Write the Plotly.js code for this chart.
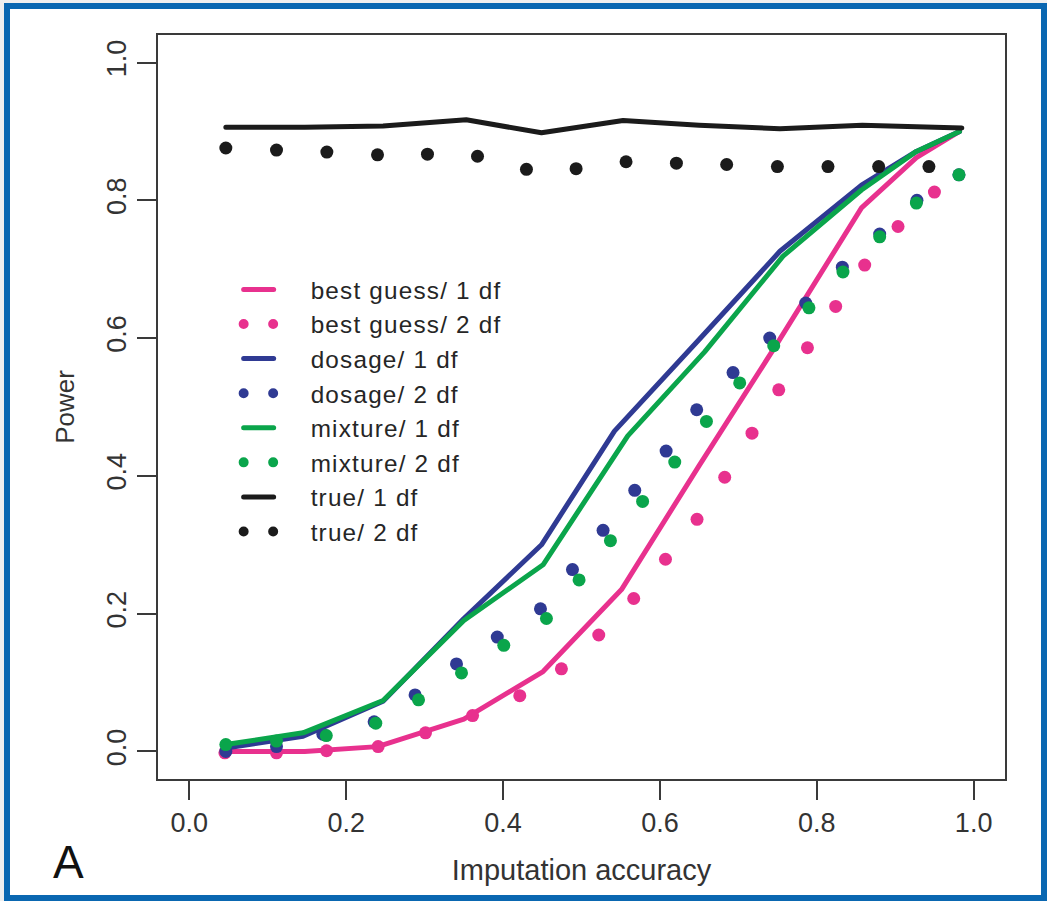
<!DOCTYPE html>
<html>
<head>
<meta charset="utf-8">
<script src="https://cdn.plot.ly/plotly-3.0.1.min.js"></script>
<style>
  html, body { margin: 0; padding: 0; background: #ffffff; }
  #wrap { position: relative; width: 1047px; height: 901px; overflow: hidden; }
  #chart { position: absolute; left: 0; top: 0; width: 1047px; height: 901px; }
  #frameOuter { position: absolute; left: 0; top: 0; width: 1047px; height: 901px; box-sizing: border-box;
    border-top: 3px solid #efefef; border-left: 4px solid #efefef; pointer-events: none; }
  #frameInner { position: absolute; left: 0; top: 0; right: 0; bottom: 0; box-sizing: border-box;
    border: 6px solid #0a67b1; pointer-events: none; }
  .js-line, .legendlines path { stroke-linecap: round !important; stroke-linejoin: round !important; }
  .legendtext { letter-spacing: 1.2px; }
  .legend .scrollbox, .legend .groups, .legend g { clip-path: none !important; }
  .legend .traces .layers { transform: translate(-32px, 0px); }
</style>
</head>
<body>
<div id="wrap">
  <div id="chart"></div>
  <div id="frameOuter"><div id="frameInner"></div></div>
</div>
<script>
// ---- data ----
const seriesNames = ["best guess/ 1 df", "best guess/ 2 df", "dosage/ 1 df", "dosage/ 2 df",
                     "mixture/ 1 df", "mixture/ 2 df", "true/ 1 df", "true/ 2 df"];

// best guess, 1 df (solid)
const bestGuess1X = [0.0465, 0.147, 0.240, 0.350, 0.451, 0.551, 0.650, 0.750, 0.857, 0.927, 0.982];
const bestGuess1Y = [0.000, 0.000, 0.007, 0.047, 0.116, 0.235, 0.415, 0.593, 0.789, 0.862, 0.900];
// best guess, 2 df (dotted)
const bestGuess2X = [0.0453, 0.1111, 0.1749, 0.2407, 0.3011, 0.3611, 0.4213, 0.4744, 0.5220, 0.5666,
                     0.6071, 0.6473, 0.6826, 0.7174, 0.7515, 0.7881, 0.8241, 0.8611, 0.9036, 0.9500];
const bestGuess2Y = [-0.002, -0.002, 0.001, 0.007, 0.027, 0.052, 0.081, 0.120, 0.169, 0.222,
                     0.279, 0.337, 0.398, 0.462, 0.525, 0.586, 0.646, 0.706, 0.762, 0.812];

// dosage, 1 df (solid)
const dosage1X = [0.0465, 0.145, 0.247, 0.350, 0.449, 0.542, 0.650, 0.753, 0.857, 0.927, 0.982];
const dosage1Y = [0.005, 0.022, 0.073, 0.193, 0.300, 0.465, 0.598, 0.726, 0.822, 0.871, 0.900];
// dosage, 2 df (dotted)
const dosage2X = [0.0465, 0.1111, 0.1702, 0.2356, 0.2878, 0.3406, 0.3926, 0.4477, 0.4885, 0.5275,
                  0.5679, 0.6079, 0.6469, 0.6932, 0.7400, 0.7859, 0.8326, 0.8802, 0.9277, 0.9813];
const dosage2Y = [0.000, 0.007, 0.025, 0.043, 0.082, 0.127, 0.166, 0.207, 0.264, 0.321,
                  0.379, 0.436, 0.496, 0.550, 0.600, 0.651, 0.703, 0.751, 0.800, 0.837];

// mixture, 1 df (solid)
const mixture1X = [0.0465, 0.145, 0.247, 0.350, 0.451, 0.559, 0.657, 0.757, 0.857, 0.927, 0.982];
const mixture1Y = [0.010, 0.027, 0.074, 0.190, 0.271, 0.458, 0.580, 0.719, 0.815, 0.871, 0.900];
// mixture, 2 df (dotted)
const mixture2X = [0.0465, 0.1111, 0.1746, 0.2377, 0.2922, 0.3470, 0.4009, 0.4553, 0.4969, 0.5369,
                   0.5779, 0.6189, 0.6593, 0.7017, 0.7451, 0.7900, 0.8334, 0.8802, 0.9270, 0.9813];
const mixture2Y = [0.010, 0.015, 0.023, 0.041, 0.075, 0.114, 0.154, 0.193, 0.249, 0.306,
                   0.363, 0.420, 0.479, 0.535, 0.589, 0.644, 0.696, 0.747, 0.796, 0.837];

// true genotypes, 1 df (solid)
const true1X = [0.0465, 0.147, 0.247, 0.353, 0.449, 0.553, 0.650, 0.753, 0.858, 0.985];
const true1Y = [0.906, 0.906, 0.908, 0.917, 0.898, 0.916, 0.909, 0.904, 0.909, 0.905];
// true genotypes, 2 df (dotted)
const true2X = [0.0465, 0.1111, 0.1753, 0.2399, 0.3036, 0.3674, 0.4298, 0.4931, 0.5568, 0.6210,
                0.6851, 0.7498, 0.8143, 0.8789, 0.9430];
const true2Y = [0.876, 0.873, 0.870, 0.866, 0.867, 0.864, 0.845, 0.846, 0.856, 0.854,
                0.852, 0.849, 0.849, 0.849, 0.849];

const tickVals = [0, 0.2, 0.4, 0.6, 0.8, 1.0];
const tickText = ["0.0", "0.2", "0.4", "0.6", "0.8", "1.0"];

// placeholder point for legend-only key entries (draws nothing)
const keyX = [null];
const keyY = [null];

// ---- styles ----
const PINK = "#e8318e", BLUE = "#2f3a93", GREEN = "#0aa54b", BLACK = "#1b1b1b";
const FONT = "Liberation Sans, Arial, Helvetica, sans-serif";

function solid(x, y, name, color) {
  return { x: x, y: y, name: name, type: "scatter", mode: "lines",
           line: { color: color, width: 5 }, hoverinfo: "skip", showlegend: true };
}
function dots(x, y, name, color) {
  return { x: x, y: y, name: name, type: "scatter", mode: "markers", legendgroup: name,
           marker: { color: color, size: 13, line: { width: 0 } }, hoverinfo: "skip", showlegend: false };
}
function dotsKey(name, color) {
  // legend-only entry: dotted sample (two round dots)
  return { x: keyX, y: keyY, name: name, type: "scatter", mode: "lines", legendgroup: name,
           line: { color: color, width: 13, dash: "0px,29.5px" }, hoverinfo: "skip", showlegend: true };
}

const traces = [
  solid(bestGuess1X, bestGuess1Y, seriesNames[0], PINK),
  dots(bestGuess2X, bestGuess2Y, seriesNames[1], PINK),
  dotsKey(seriesNames[1], PINK),
  solid(dosage1X, dosage1Y, seriesNames[2], BLUE),
  dots(dosage2X, dosage2Y, seriesNames[3], BLUE),
  dotsKey(seriesNames[3], BLUE),
  solid(mixture1X, mixture1Y, seriesNames[4], GREEN),
  dots(mixture2X, mixture2Y, seriesNames[5], GREEN),
  dotsKey(seriesNames[5], GREEN),
  solid(true1X, true1Y, seriesNames[6], BLACK),
  dots(true2X, true2Y, seriesNames[7], BLACK),
  dotsKey(seriesNames[7], BLACK)
];

const axisCommon = {
  showgrid: false, zeroline: false,
  showline: true, mirror: true, linecolor: "#3a3a3a", linewidth: 2,
  ticks: "outside", ticklen: 19, tickwidth: 2, tickcolor: "#3a3a3a",
  tickmode: "array", tickvals: tickVals, ticktext: tickText,
  tickfont: { family: FONT, size: 27, color: "#333333" },
  fixedrange: true
};

const layout = {
  width: 1047, height: 901,
  margin: { l: 158, r: 42, t: 35, b: 122, pad: 0 },
  paper_bgcolor: "#ffffff", plot_bgcolor: "#ffffff",
  showlegend: true,
  legend: {
    x: 0.133, y: 0.688, xanchor: "left", yanchor: "top",
    bgcolor: "rgba(0,0,0,0)", borderwidth: 0, tracegroupgap: 0,
    font: { family: FONT, size: 24.3, color: "#262626" }, traceorder: "normal"
  },
  xaxis: Object.assign({}, axisCommon, {
    range: [-0.04, 1.04],
    title: { text: "Imputation accuracy", font: { family: FONT, size: 29, color: "#333333" }, standoff: 22 }
  }),
  yaxis: Object.assign({}, axisCommon, {
    range: [-0.04, 1.04], tickangle: -90,
    title: { text: "Power", font: { family: FONT, size: 26, color: "#333333" }, standoff: 20 }
  }),
  annotations: [{
    text: "A", xref: "paper", yref: "paper", x: -0.106, y: -0.112,
    xanchor: "center", yanchor: "middle", showarrow: false,
    font: { family: FONT, size: 46, color: "#111111" }
  }]
};

Plotly.newPlot("chart", traces, layout, { staticPlot: true, displayModeBar: false });
</script>
</body>
</html>
